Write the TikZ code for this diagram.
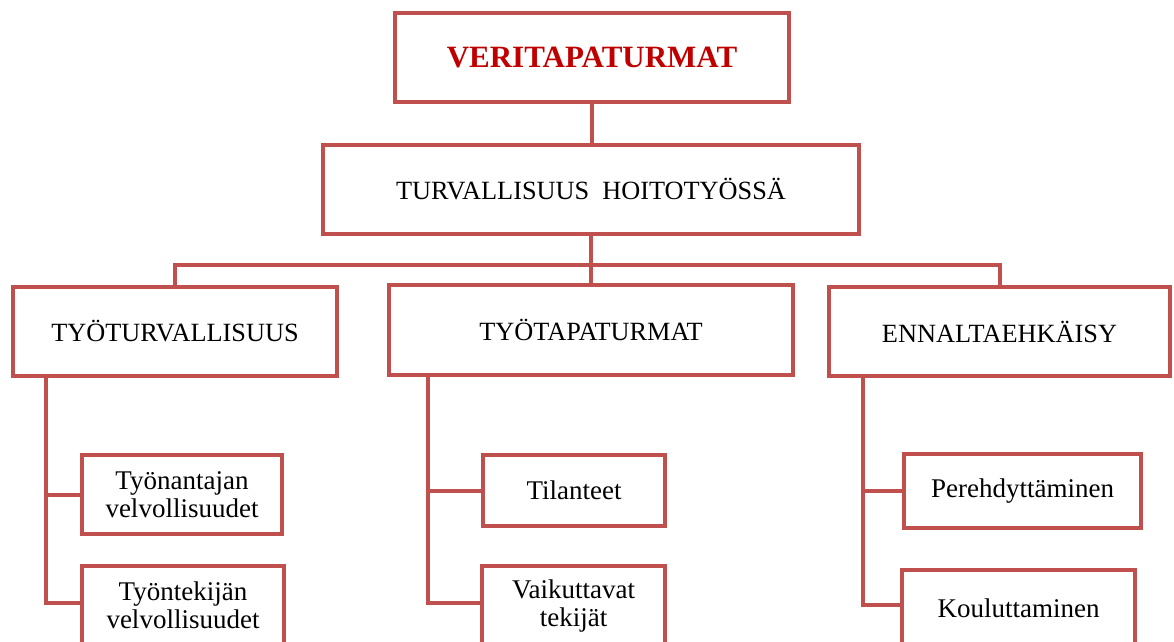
\documentclass[tikz,border=0pt]{standalone}
\usepackage{fontspec}
\setmainfont{Liberation Serif}
\usepackage{tikz}
\usetikzlibrary{calc,positioning}
\definecolor{boxred}{HTML}{C0504D}
\definecolor{titlered}{HTML}{C00000}

\begin{document}
\begin{tikzpicture}[x=1pt,y=-1pt,
		box/.style={draw=boxred,line width=4pt,fill=white,inner sep=0pt,align=center,font=\fontsize{26.3}{28}\selectfont},
		leaf/.style={box,font=\fontsize{27}{28}\selectfont},
		link/.style={draw=boxred,line width=4pt}]
		\useasboundingbox (0,0) rectangle (1174,641);
		\clip (0,0) rectangle (1174,641);
		% ylin taso
		\node[box,minimum width=394pt,minimum height=89pt,font=\fontsize{31}{32}\selectfont\bfseries,text=titlered] (top) at (592,57.5) {VERITAPATURMAT};
		\node[box,minimum width=536pt,minimum height=89pt] (mid) at (591,189.5) {TURVALLISUUS\ \ HOITOTYÖSSÄ};
		% toinen taso
		\node[box,minimum width=324pt,minimum height=89pt] (tyo) at (175,331.5) {TYÖTURVALLISUUS};
		\node[box,minimum width=404pt,minimum height=90pt] (tap) at (591,330) {TYÖTAPATURMAT};
		\node[box,minimum width=341pt,minimum height=89pt] (enn) at (999.5,331.5) {ENNALTAEHKÄISY};
		% alimmat laatikot
		\node[leaf,minimum width=200pt,minimum height=79pt] (tyoA) at (182,494.5) {Työnantajan\\velvollisuudet};
		\node[leaf,minimum width=202pt,minimum height=79pt] (tyoB) at (183,605.5) {Työntekijän\\velvollisuudet};
		\node[leaf,minimum width=182pt,minimum height=71pt] (tapA) at (574,490.5) {Tilanteet};
		\node[leaf,minimum width=183pt,minimum height=80pt] (tapB) at (573.5,606) {Vaikuttavat\\tekijät};
		\node[leaf,minimum width=237pt,minimum height=74pt] (ennA) at (1022.5,491) {Perehdyttäminen};
		\node[leaf,minimum width=233pt,minimum height=76pt] (ennB) at (1018.5,608) {Kouluttaminen};
		% yhdysviivat
		\coordinate (bus) at (591,265);
		\draw[link] (top.south) -- (top.south |- mid.north);
		\draw[link] (mid.south) -- (bus);
		\draw[link] (tyo.north) |- (bus) -| (enn.north);
		\draw[link] (bus) -- (tap.north);
		\foreach \p/\a/\b/\d in {tyo/tyoA/tyoB/35,tap/tapA/tapB/41,enn/ennA/ennB/36}
		\draw[link] ([xshift=\d pt]\p.south west) |- ([yshift=3pt]\b.west) ([xshift=\d pt]\p.south west) |- (\a.west);
		\end{tikzpicture}
\end{document}
